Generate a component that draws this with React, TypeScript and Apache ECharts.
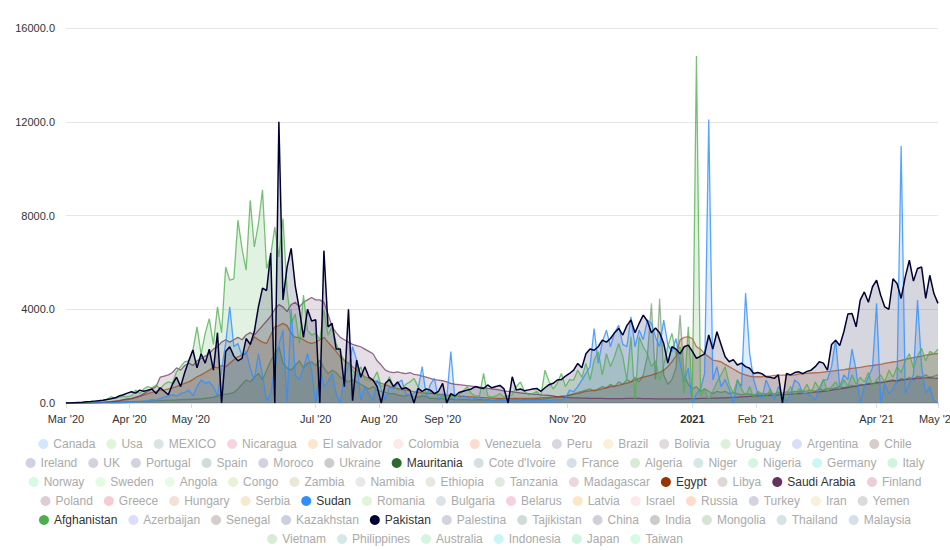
import React, { useEffect, useRef } from "react";
import * as echarts from "echarts";

// ---- time domain: one sample every 2 days starting 1 Mar 2020 ----
const START_UTC = Date.UTC(2020, 2, 1);
const STEP_DAYS = 2;

// ---- x-axis tick dates ----
const tickDates = [
  "2020-03-01", "2020-04-01", "2020-05-01", "2020-07-01", "2020-08-01", "2020-09-01",
  "2020-11-01", "2021-01-01", "2021-02-01", "2021-04-01", "2021-05-01",
];
const monthNames = ["Jan", "Feb", "Mar", "Apr", "May", "Jun", "Jul", "Aug", "Sep", "Oct", "Nov", "Dec"];

// ---- y-axis ----
const yMin = 0;
const yMax = 16000;
const yInterval = 4000;

// ---- series values (every 2 days) ----
const mauritania = [
  0, 0, 0, 0, 10, 10, 20, 20, 30, 30,
  30, 40, 40, 50, 50, 60, 60, 70, 70, 80,
  80, 90, 100, 100, 110, 120, 120, 130, 140, 150,
  150, 160, 170, 180, 200, 220, 250, 300, 350, 380,
  400, 450, 600, 800, 980, 900, 1100, 1260, 1000, 1400,
  1800, 2110, 2400, 1700, 1500, 1400, 1600, 1800, 1500, 1700,
  1760, 1600, 1830, 1500, 1260, 1400, 1300, 1100, 1000, 900,
  1000, 900, 800, 700, 600, 700, 550, 500, 450, 400,
  400, 350, 300, 300, 350, 270, 250, 300, 270, 200,
  200, 180, 200, 150, 170, 150, 130, 150, 140, 130,
  130, 150, 130, 140, 120, 130, 150, 130, 120, 140,
  150, 130, 160, 140, 150, 170, 160, 180, 200, 220,
  250, 300, 280, 350, 400, 450, 500, 550, 600, 500,
  600, 700, 650, 800, 700, 900, 800, 1000, 900, 1100,
  900, 1200, 2000, 4250, 1000, 4460, 1200, 800, 1000, 1500,
  3750, 1200, 800, 600, 700, 500, 600, 500, 400, 500,
  450, 500, 400, 450, 400, 350, 400, 380, 350, 400,
  380, 400, 420, 400, 450, 420, 480, 450, 500, 480,
  500, 520, 550, 500, 600, 550, 620, 600, 650, 700,
  650, 700, 750, 700, 800, 750, 850, 800, 900, 850,
  900, 950, 1000, 900, 1050, 1000, 1100, 1000, 1150, 1100,
  1200, 1100, 1150, 1200,
];

const egypt = [
  0, 0, 0, 0, 0, 0, 0, 10, 20, 30,
  40, 50, 70, 90, 120, 150, 180, 220, 280, 350,
  400, 450, 500, 550, 550, 600, 650, 700, 780, 840,
  900, 1000, 1120, 1200, 1300, 1400, 1550, 1500, 1600, 1550,
  1700, 1850, 1970, 2050, 2110, 2500, 2830, 2700, 2600, 2540,
  2900, 3250, 3300, 3400, 3300, 2970, 2800, 2800, 2700, 2600,
  2540, 2600, 2700, 2800, 2600, 2400, 2200, 1970, 1800, 1700,
  1550, 1400, 1250, 1120, 1050, 950, 900, 840, 780, 720,
  650, 620, 580, 550, 520, 480, 460, 440, 420, 410,
  400, 380, 360, 340, 320, 300, 290, 280, 270, 260,
  250, 240, 230, 220, 210, 200, 200, 200, 200, 200,
  200, 200, 200, 200, 200, 210, 220, 230, 240, 260,
  270, 280, 300, 330, 380, 400, 450, 500, 520, 550,
  560, 600, 650, 700, 720, 750, 800, 850, 900, 980,
  1050, 1100, 1150, 1190, 1250, 1300, 1400, 1550, 1760, 2000,
  2700, 2800, 2830, 2750, 2400, 2300, 2100, 1970, 1830, 1800,
  1760, 1650, 1550, 1450, 1350, 1250, 1200, 1150, 1120, 1120,
  1120, 1150, 1150, 1180, 1190, 1190, 1200, 1190, 1200, 1230,
  1250, 1260, 1280, 1290, 1300, 1320, 1340, 1360, 1380, 1400,
  1420, 1450, 1480, 1500, 1520, 1550, 1580, 1600, 1630, 1650,
  1690, 1720, 1750, 1780, 1820, 1860, 1900, 1940, 1970, 2000,
  2040, 2070, 2100, 2110,
];

const saudiArabia = [
  0, 0, 0, 0, 0, 5, 10, 15, 20, 30,
  45, 60, 80, 100, 140, 180, 200, 250, 300, 400,
  500, 600, 700, 1100, 1150, 1200, 1300, 1500, 1400, 1600,
  1700, 1600, 1800, 1900, 2000, 2100, 2300, 2400, 2600, 2700,
  2600, 2700, 2800, 2700, 2900, 3000, 2900, 3100, 3300, 3500,
  3700, 4000, 4200, 4100, 3900, 4200, 4300, 4100, 4300, 4400,
  4500, 4400, 4400, 4300, 3800, 3250, 3000, 2800, 2700, 2600,
  2500, 2450, 2400, 2300, 2200, 2100, 1800, 1620, 1400, 1330,
  1300, 1330, 1280, 1250, 1300, 1220, 1200, 1150, 1100, 1050,
  1000, 980, 950, 900, 840, 800, 780, 760, 740, 720,
  700, 680, 650, 620, 600, 580, 550, 520, 500, 480,
  450, 430, 410, 400, 380, 370, 350, 340, 320, 300,
  260, 250, 240, 230, 220, 220, 210, 210, 200, 200,
  200, 200, 190, 190, 190, 190, 190, 200, 200, 200,
  200, 190, 190, 190, 180, 180, 180, 180, 180, 180,
  180, 180, 190, 190, 190, 200, 200, 200, 210, 210,
  220, 220, 230, 240, 250, 260, 270, 280, 290, 300,
  310, 320, 330, 340, 350, 360, 370, 380, 390, 400,
  410, 420, 440, 460, 480, 500, 520, 550, 580, 600,
  630, 660, 690, 720, 750, 780, 800, 830, 860, 880,
  900, 920, 940, 960, 980, 1000, 1020, 1040, 1050, 1060,
  1070, 1080, 1060, 1050,
];

const sudan = [
  0, 0, 0, 0, 0, 0, 0, 0, 0, 0,
  0, 0, 0, 0, 10, 20, 30, 50, 60, 80,
  100, 150, 120, 200, 250, 300, 350, 300, 400, 450,
  550, 300, 700, 980, 850, 900, 700, 300, 1400, 2540,
  4100, 2400, 2540, 2000, 2200, 1500, 980, 2110, 1200, 100,
  410, 1500, 2500, 3100, 0, 4000, 1200, 980, 1500, 2110,
  1400, 0, 1550, 700, 900, 1260, 400, 0, 1200, 1550,
  2400, 1830, 130, 700, 400, 100, 980, 600, 130, 700,
  600, 840, 980, 400, 300, 410, 600, 1550, 270, 800,
  1050, 130, 400, 200, 2200, 130, 200, 300, 250, 150,
  200, 250, 150, 120, 100, 80, 100, 120, 100, 80,
  100, 80, 100, 120, 90, 100, 110, 130, 100, 120,
  150, 130, 200, 550, 480, 700, 980, 1260, 1550, 3180,
  1700, 2600, 3110, 2400, 3000, 3320, 2500, 2400, 3680, 2400,
  3110, 2700, 3540, 3400, 2800, 2400, 3540, 2500, 2200, 2750,
  1690, 900, 1500, 0, 400, 600, 1260, 12100, 980, 1550,
  700, 1000, 600, 0, 980, 700, 4690, 2110, 980, 400,
  200, 980, 600, 130, 700, 300, 70, 400, 980, 840,
  400, 400, 300, 130, 600, 980, 1000, 1550, 2700, 700,
  1200, 1000, 2300, 1400, 0, 700, 1100, 1500, 4250, 0,
  840, 400, 600, 1000, 10970, 400, 840, 1200, 4390, 1550,
  400, 700, 100, 0,
];

const afghanistan = [
  0, 0, 0, 10, 20, 30, 40, 60, 80, 100,
  150, 270, 200, 250, 280, 270, 300, 550, 400, 600,
  700, 650, 770, 600, 800, 900, 850, 1330, 1550, 1760,
  1800, 2260, 3250, 2100, 2970, 3600, 2500, 4100, 3000, 5800,
  5240, 5300, 7800, 6590, 5670, 8650, 6660, 7650, 9100, 5740,
  6300, 7510, 6230, 7870, 4800, 3400, 3800, 2540, 4600, 3100,
  2900, 2970, 2700, 3960, 2900, 3250, 2540, 2110, 1830, 1600,
  1400, 1200, 1550, 1000, 980, 1000, 1330, 700, 750, 1120,
  700, 550, 600, 800, 900, 1050, 700, 400, 450, 500,
  400, 350, 270, 300, 270, 250, 350, 500, 700, 400,
  300, 300, 1260, 300, 250, 300, 400, 250, 300, 350,
  700, 900, 500, 350, 400, 500, 300, 1400, 900, 600,
  840, 1260, 700, 1000, 980, 1400, 1100, 1690, 980, 1830,
  2190, 1200, 2100, 1550, 2000, 2540, 2000, 980, 2830, 130,
  2830, 2400, 2100, 1550, 1800, 980, 1600, 2400, 2970, 2100,
  2400, 400, 3250, 200, 14800, 300, 600, 100, 500, 900,
  1200, 1550, 800, 400, 1000, 600, 300, 700, 200, 500,
  400, 200, 600, 300, 500, 100, 400, 700, 300, 600,
  500, 800, 400, 900, 600, 1000, 500, 700, 900, 600,
  1000, 700, 1200, 800, 1100, 900, 1300, 700, 1000, 1200,
  900, 1400, 1100, 1550, 1300, 1800, 2100, 1500, 2000, 2330,
  1800, 2200, 2100, 2300,
];

const pakistan = [
  0, 0, 10, 20, 30, 50, 60, 80, 100, 120,
  150, 180, 220, 300, 350, 420, 480, 420, 550, 500,
  550, 600, 400, 650, 500, 350, 800, 1100, 700, 1300,
  1800, 2260, 1500, 2100, 1700, 2300, 1400, 3000, 0, 2200,
  2400, 2000, 1800, 1900, 2750, 2500, 3050, 4100, 4900, 4800,
  6400, 0, 12000, 4400, 5800, 6600, 5000, 4000, 2800, 4000,
  3500, 3550, 0, 6500, 3250, 3400, 2300, 2300, 700, 4000,
  100, 1830, 1100, 1550, 1100, 980, 700, 0, 840, 1000,
  700, 900, 600, 650, 550, 0, 620, 500, 600, 550,
  400, 500, 840, 0, 400, 300, 450, 500, 550, 600,
  700, 650, 620, 770, 650, 700, 750, 600, 0, 1120,
  550, 600, 520, 560, 600, 620, 500, 650, 780, 840,
  980, 1000, 1150, 1260, 1400, 1690, 1500, 2100, 2300, 2250,
  2400, 2680, 2600, 2750, 3000, 3180, 2900, 3300, 3540, 3000,
  3400, 3750, 3500, 3000, 3200, 3000, 2540, 1700, 2400, 2300,
  2100, 2400, 2470, 2200, 1900, 2000, 2100, 2900, 2300, 3040,
  2500, 1970, 1760, 1850, 1620, 1700, 1550, 1480, 1260, 1300,
  1250, 1120, 1100, 1050, 1200, 0, 1260, 1200, 1300, 1330,
  1250, 1350, 1400, 1550, 1760, 1700, 1400, 2500, 2680, 2450,
  3040, 3800, 3820, 3250, 4390, 4740, 4300, 4960, 5240, 4600,
  4100, 4000, 5300, 5100, 4460, 5380, 6090, 5200, 5740, 5800,
  4460, 5450, 4670, 4250,
];

// ---- legend rows: country names in order, colours ----
const legendRows = [
  ["Canada", "Usa", "MEXICO", "Nicaragua", "El salvador", "Colombia", "Venezuela", "Peru", "Brazil", "Bolivia", "Uruguay", "Argentina", "Chile"],
  ["Ireland", "UK", "Portugal", "Spain", "Moroco", "Ukraine", "Mauritania", "Cote d'Ivoire", "France", "Algeria", "Niger", "Nigeria", "Germany", "Italy"],
  ["Norway", "Sweden", "Angola", "Congo", "Zambia", "Namibia", "Ethiopia", "Tanzania", "Madagascar", "Egypt", "Libya", "Saudi Arabia", "Finland"],
  ["Poland", "Greece", "Hungary", "Serbia", "Sudan", "Romania", "Bulgaria", "Belarus", "Latvia", "Israel", "Russia", "Turkey", "Iran", "Yemen"],
  ["Afghanistan", "Azerbaijan", "Senegal", "Kazakhstan", "Pakistan", "Palestina", "Tajikistan", "China", "India", "Mongolia", "Thailand", "Malaysia"],
  ["Vietnam", "Philippines", "Australia", "Indonesia", "Japan", "Taiwan"],
];
const legendRowColors = [
  ["#d3e6ff", "#dff5d8", "#dce3e3", "#f9d3e0", "#fde6cc", "#fde8ea", "#fddcd0", "#d8d6e3", "#faf0d5", "#e0dadd", "#dcf0dc", "#dcdcfc", "#d8cccc"],
  ["#cfd0e3", "#d3d3dd", "#d3d3e0", "#cfdcd8", "#d3d3df", "#cccccc", "#2e6a30", "#d5e0e0", "#d5e0ea", "#d8ebd5", "#d5e8e8", "#d5f5e0", "#ccf5f5", "#cff5e0"],
  ["#d6fbe3", "#e3fbe0", "#e5fbe8", "#e8f3d5", "#eae8d5", "#e8e8e8", "#e8e8e0", "#e0ebe0", "#ebd8da", "#993300", "#e0d8d8", "#66305f", "#ebcfd8"],
  ["#e0ccd5", "#f5ccd5", "#f5e0d5", "#f5ead0", "#2f8fff", "#e0f5d8", "#dce3e8", "#fad0e0", "#fde5c8", "#fde8ec", "#fddccd", "#d5d3e0", "#faf0d8", "#dddada"],
  ["#4cae4c", "#dcdcfc", "#d8cccc", "#cfcfe3", "#000033", "#d3d3dd", "#cfdcd8", "#d0d0dc", "#cccccc", "#d5e5d5", "#d5e3e3", "#d5e0ec"],
  ["#d8ebd5", "#d5e8e8", "#d5f5e0", "#ccf5f8", "#cff5e0", "#d6fbe3"],
];
const seriesValues: Record<string, number[]> = {
  Mauritania: mauritania,
  Egypt: egypt,
  "Saudi Arabia": saudiArabia,
  Sudan: sudan,
  Afghanistan: afghanistan,
  Pakistan: pakistan,
};
const lineOpacity: Record<string, number> = {
  Mauritania: 0.45,
  Egypt: 0.6,
  "Saudi Arabia": 0.7,
  Sudan: 0.8,
  Afghanistan: 0.75,
  Pakistan: 1,
};

const FONT = "'Liberation Sans', Arial, Helvetica, sans-serif";

export default function App() {
  const ref = useRef<HTMLDivElement>(null);

  useEffect(() => {
    document.body.style.margin = "0";
    if (!ref.current) return;
    const chart = echarts.init(ref.current, undefined, { renderer: "svg" });

    const toPairs = (vals: number[]) =>
      vals.map((v, i) => [START_UTC + i * STEP_DAYS * 86400000, v]);

    const series: any[] = [];
    legendRows.forEach((row, r) =>
      row.forEach((name, c) => {
        const vals = seriesValues[name];
        const isPak = name === "Pakistan";
        series.push({
          name,
          type: "line",
          color: legendRowColors[r][c],
          showSymbol: false,
          symbol: "none",
          data: vals ? toPairs(vals) : [],
          lineStyle: { width: isPak ? 1.5 : 1.3, opacity: lineOpacity[name] ?? 1 },
          areaStyle: { opacity: 0.16 },
          emphasis: { disabled: true },
        });
      })
    );

    const tickValues = tickDates.map((d) => {
      const [y, m, dd] = d.split("-").map(Number);
      return Date.UTC(y, m - 1, dd);
    });

    const legends = legendRows.map((row, r) => ({
      data: row.map((name, c) => ({
        name,
        itemStyle: { color: legendRowColors[r][c] },
        textStyle: { color: seriesValues[name] ? "#333" : "#aaa" },
      })),
      icon: "circle",
      itemWidth: 10,
      itemHeight: 10,
      itemGap: 11,
      padding: 0,
      left: "center",
      top: 438 + r * 19,
      textStyle: { fontSize: 12, fontFamily: FONT },
    }));

    chart.setOption({
      animation: false,
      textStyle: { fontFamily: FONT },
      grid: { left: 66, right: 12, top: 28, bottom: 147, outerBoundsMode: "none", containLabel: false },
      legend: legends,
      xAxis: {
        type: "value",
        min: tickValues[0],
        max: tickValues[tickValues.length - 1],
        axisLine: { lineStyle: { color: "#dddddd", width: 2 } },
        axisTick: { show: true, customValues: tickValues, length: 5, lineStyle: { color: "#dddddd" } },
        splitLine: { show: false },
        axisLabel: {
          customValues: tickValues,
          color: "#333",
          fontSize: 11,
          fontFamily: FONT,
          margin: 10,
          showMinLabel: true,
          showMaxLabel: true,
          formatter: (val: number) => {
            const d = new Date(val);
            const m = d.getUTCMonth();
            const y = d.getUTCFullYear();
            if (m === 0) return "{b|" + y + "}";
            return monthNames[m] + " '" + String(y).slice(2);
          },
          rich: { b: { fontWeight: "bold", fontSize: 11, color: "#333", fontFamily: FONT } },
        },
      },
      yAxis: {
        type: "value",
        min: yMin,
        max: yMax,
        interval: yInterval,
        axisLine: { show: false },
        axisTick: { show: false },
        splitLine: { lineStyle: { color: "#e6e6e6", width: 1 } },
        axisLabel: {
          color: "#333",
          fontSize: 11,
          fontFamily: FONT,
          margin: 11,
          formatter: (v: number) => v.toFixed(1),
        },
      },
      series,
    });

    return () => chart.dispose();
  }, []);

  return (
    <div
      ref={ref}
      style={{ position: "absolute", left: 0, top: 0, width: 950, height: 550 }}
    />
  );
}
